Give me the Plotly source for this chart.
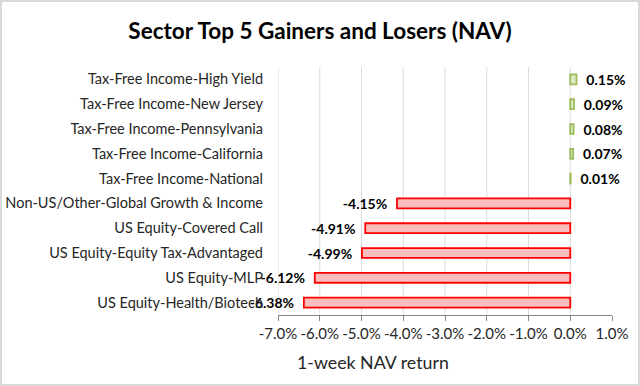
import plotly.graph_objects as go

categories = [
    "Tax-Free Income-High Yield",
    "Tax-Free Income-New Jersey",
    "Tax-Free Income-Pennsylvania",
    "Tax-Free Income-California",
    "Tax-Free Income-National",
    "Non-US/Other-Global Growth & Income",
    "US Equity-Covered Call",
    "US Equity-Equity Tax-Advantaged",
    "US Equity-MLP",
    "US Equity-Health/Biotech",
]
returns_pct = [0.15, 0.09, 0.08, 0.07, 0.01, -4.15, -4.91, -4.99, -6.12, -6.38]
tick_vals = [-7, -6, -5, -4, -3, -2, -1, 0, 1]
tick_text = ["-7.0%", "-6.0%", "-5.0%", "-4.0%", "-3.0%", "-2.0%", "-1.0%", "0.0%", "1.0%"]

NB = "\u00a0"
labels = [(NB * 2 + f"{v:.2f}%") if v >= 0 else (f"{v:.2f}%" + NB * 2) for v in returns_pct]
fills = ["#ddeac6" if v >= 0 else "#f8bebe" for v in returns_pct]
borders = ["#9bbb59" if v >= 0 else "#ff0000" for v in returns_pct]

W, H = 640, 386
L, R, T, B = 278, 28, 67, 71
pw, ph = W - L - R, H - T - B

fig = go.Figure(go.Bar(
    x=returns_pct, y=categories, orientation="h",
    marker=dict(color=fills, line=dict(color=borders, width=1.8)),
    text=labels, textposition="outside", cliponaxis=False,
    constraintext="none",
    textfont=dict(family="Lato", size=14, color="#000000", weight="bold"),
    hoverinfo="skip",
))

# vertical gridlines (reference shows none at the right edge, 1.0%)
grid_shapes = [dict(type="line", xref="x", yref="paper", x0=v, x1=v, y0=0, y1=1,
                    line=dict(color="#dcdcdc", width=1), layer="below")
               for v in tick_vals[:-1]]

frame = dict(type="rect", xref="paper", yref="paper",
             x0=(-L + 1) / pw, x1=(W - L - 1) / pw,
             y0=(-B + 1) / ph, y1=(ph + T - 1) / ph,
             line=dict(color="#d9d9d9", width=2), fillcolor="rgba(0,0,0,0)",
             layer="below")

fig.update_layout(
    width=W, height=H,
    margin=dict(l=L, r=R, t=T, b=B, autoexpand=False),
    paper_bgcolor="white", plot_bgcolor="white",
    bargap=0.6, showlegend=False,
    font=dict(family="Lato", size=14, color="#262626"),
    title=dict(text="<b>Sector Top 5 Gainers and Losers (NAV)</b>",
               x=0.5, xanchor="center", y=1 - 31 / H, yanchor="middle",
               yref="container", font=dict(family="Lato", size=22.5, color="#000000")),
    xaxis=dict(range=[-7, 1], tickvals=tick_vals, ticktext=tick_text,
               showgrid=False, zeroline=False, showline=True,
               linecolor="#868686", linewidth=1,
               ticks="outside", ticklen=5, tickcolor="#868686",
               tickfont=dict(family="Lato", size=15, color="#262626"),
               automargin=False, fixedrange=True),
    yaxis=dict(autorange="reversed", showgrid=False, zeroline=False,
               showline=False, ticks="", ticklabelstandoff=14,
               tickfont=dict(family="Lato", size=14.5, color="#262626"),
               automargin=False, fixedrange=True),
    annotations=[dict(text="1-week NAV return", xref="paper", yref="paper",
                      x=(373 - L) / pw, y=(T + ph - 362) / ph,
                      xanchor="center", yanchor="middle", showarrow=False,
                      font=dict(family="Lato", size=17.8, color="#262626"))],
    shapes=grid_shapes + [frame],
)

fig.write_html("out.html", config={"displayModeBar": False},
               post_script="document.body.style.margin='0px';")
